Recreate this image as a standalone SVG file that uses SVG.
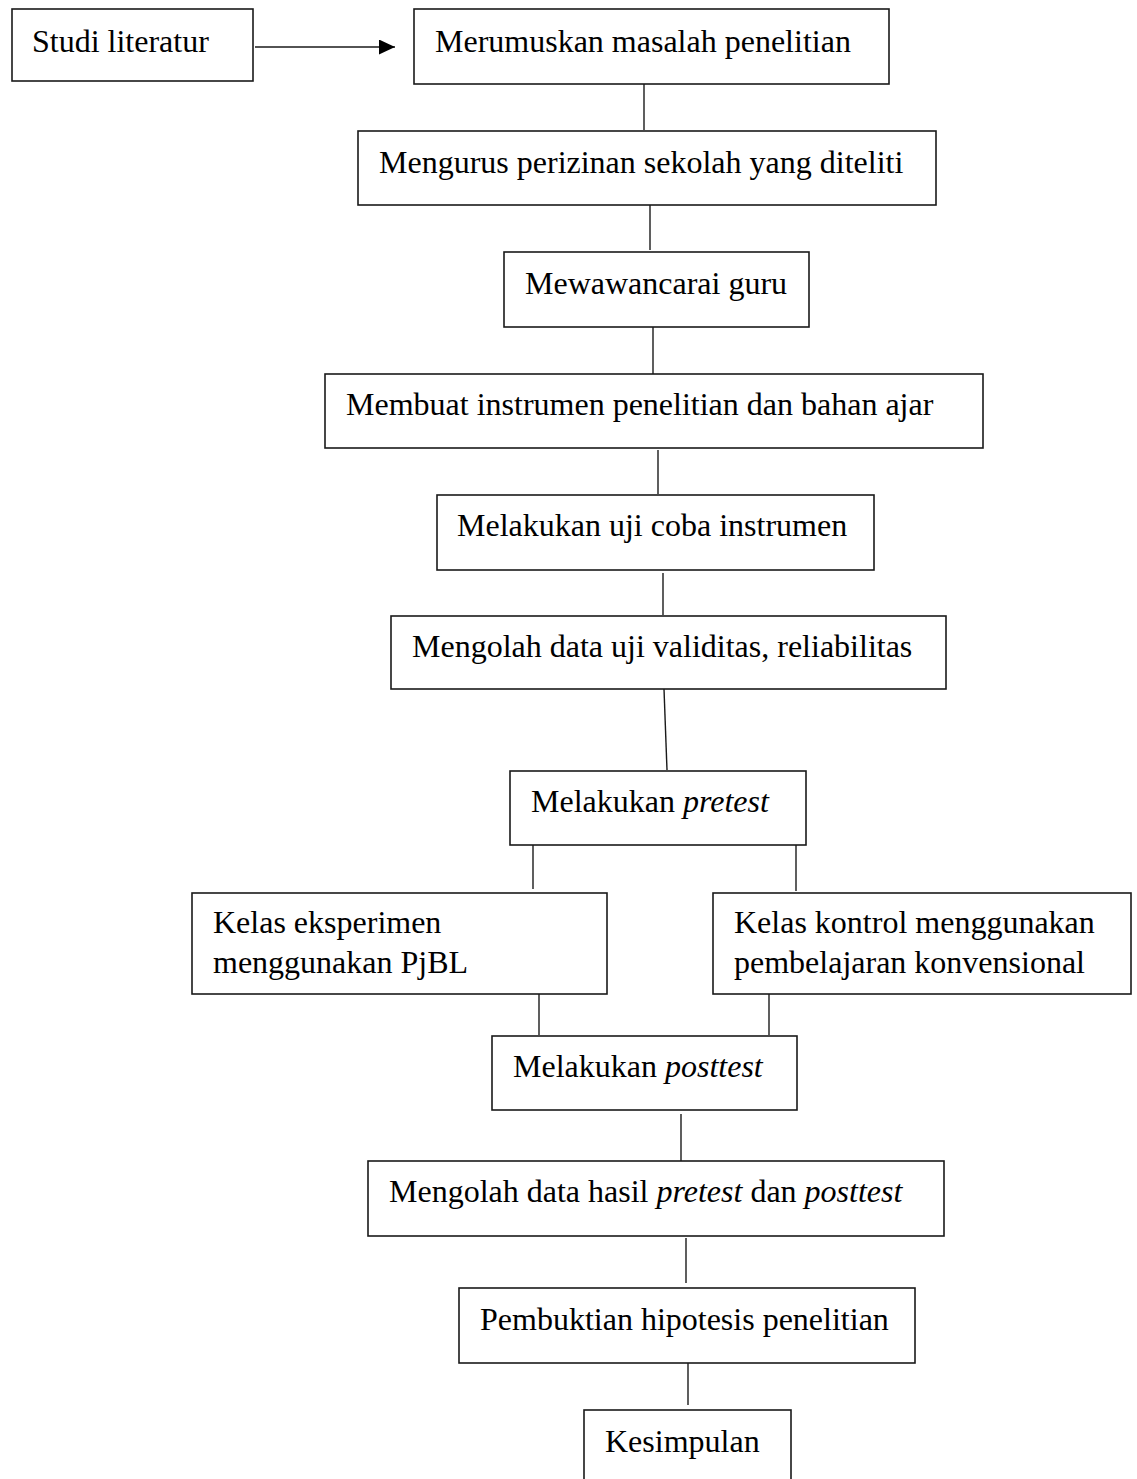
<svg xmlns="http://www.w3.org/2000/svg" width="1137" height="1479" viewBox="0 0 1137 1479">
<style>
.box{fill:#fff;stroke:#1a1a1a;stroke-width:1.6}
.t{font-family:"Liberation Serif","Times New Roman",serif;font-size:32px;fill:#000}
.i{font-style:italic}
.c{stroke:#1a1a1a;stroke-width:1.4;fill:none}
</style>
<defs>
<marker id="arr" markerUnits="userSpaceOnUse" viewBox="0 0 16 15" refX="16" refY="7.5" markerWidth="16" markerHeight="15" orient="auto">
<path d="M0,0 L16,7.5 L0,15 z" fill="#000"/>
</marker>
</defs>
<rect width="1137" height="1479" fill="#fff"/>
<g id="connectors">
<line class="c" x1="255" y1="47" x2="395" y2="47" marker-end="url(#arr)"/>
<line class="c" x1="644" y1="84" x2="644" y2="130"/>
<line class="c" x1="650" y1="205" x2="650" y2="250"/>
<line class="c" x1="653" y1="327" x2="653" y2="374"/>
<line class="c" x1="658" y1="450" x2="658" y2="494"/>
<line class="c" x1="663" y1="573" x2="663" y2="615"/>
<line class="c" x1="664" y1="689" x2="667" y2="770"/>
<line class="c" x1="533" y1="845" x2="533" y2="889"/>
<line class="c" x1="796" y1="845" x2="796" y2="891"/>
<line class="c" x1="539" y1="992" x2="539" y2="1035"/>
<line class="c" x1="769" y1="992" x2="769" y2="1035"/>
<line class="c" x1="681" y1="1114" x2="681" y2="1161"/>
<line class="c" x1="686" y1="1238" x2="686" y2="1283"/>
<line class="c" x1="688" y1="1361" x2="688" y2="1405"/>
</g>
<g id="studi-literatur">
<rect class="box" x="12" y="9" width="241" height="72"/>
<text class="t" x="32" y="52">Studi literatur</text>
</g>
<g id="merumuskan">
<rect class="box" x="414" y="9" width="475" height="75"/>
<text class="t" x="435" y="52">Merumuskan masalah penelitian</text>
</g>
<g id="mengurus">
<rect class="box" x="358" y="131" width="578" height="74"/>
<text class="t" x="379" y="173">Mengurus perizinan sekolah yang diteliti</text>
</g>
<g id="mewawancarai">
<rect class="box" x="504" y="252" width="305" height="75"/>
<text class="t" x="525" y="294">Mewawancarai guru</text>
</g>
<g id="membuat">
<rect class="box" x="325" y="374" width="658" height="74"/>
<text class="t" x="346" y="415">Membuat instrumen penelitian dan bahan ajar</text>
</g>
<g id="uji-coba">
<rect class="box" x="437" y="495" width="437" height="75"/>
<text class="t" x="457" y="536">Melakukan uji coba instrumen</text>
</g>
<g id="mengolah-uji">
<rect class="box" x="391" y="616" width="555" height="73"/>
<text class="t" x="412" y="657">Mengolah data uji validitas, reliabilitas</text>
</g>
<g id="pretest">
<rect class="box" x="510" y="771" width="296" height="74"/>
<text class="t" x="531" y="812">Melakukan <tspan class="i">pretest</tspan></text>
</g>
<g id="eksperimen">
<rect class="box" x="192" y="893" width="415" height="101"/>
<text class="t" x="213" y="933">Kelas eksperimen</text>
<text class="t" x="213" y="973">menggunakan PjBL</text>
</g>
<g id="kontrol">
<rect class="box" x="713" y="893" width="418" height="101"/>
<text class="t" x="734" y="933">Kelas kontrol menggunakan</text>
<text class="t" x="734" y="973">pembelajaran konvensional</text>
</g>
<g id="posttest">
<rect class="box" x="492" y="1036" width="305" height="74"/>
<text class="t" x="513" y="1077">Melakukan <tspan class="i">posttest</tspan></text>
</g>
<g id="mengolah-hasil">
<rect class="box" x="368" y="1161" width="576" height="75"/>
<text class="t" x="389" y="1202">Mengolah data hasil <tspan class="i">pretest</tspan> dan <tspan class="i">posttest</tspan></text>
</g>
<g id="pembuktian">
<rect class="box" x="459" y="1288" width="456" height="75"/>
<text class="t" x="480" y="1330">Pembuktian hipotesis penelitian</text>
</g>
<g id="kesimpulan">
<rect class="box" x="584" y="1410" width="207" height="80"/>
<text class="t" x="605" y="1452">Kesimpulan</text>
</g>
</svg>
